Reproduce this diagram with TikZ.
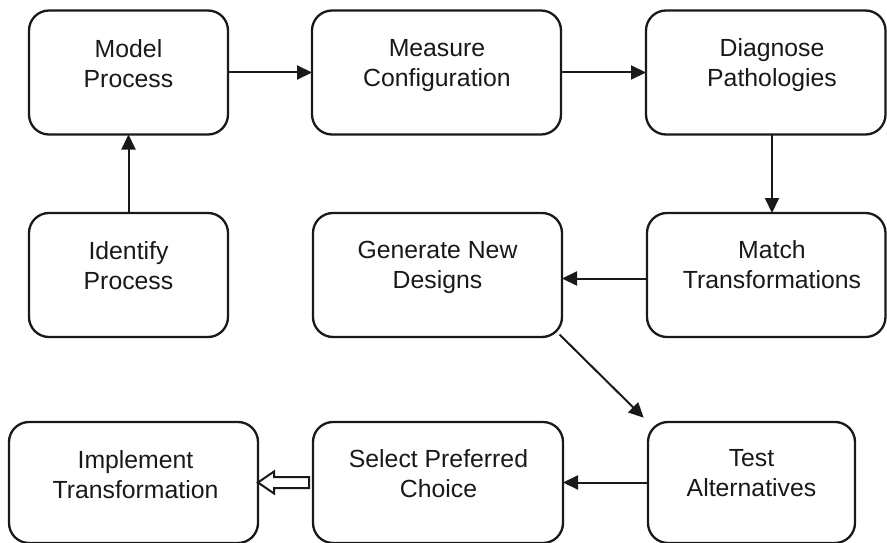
\documentclass[tikz,border=0pt]{standalone}
\usepackage{fontspec}
\setmainfont{Liberation Sans}
\usetikzlibrary{arrows.meta,calc}

\tikzset{
  x=1pt, y=-1pt,
  stepbox/.style={draw=black!90, line width=2.3pt, rounded corners=20pt,
    inner sep=0pt, outer sep=0pt, minimum height=124pt},
  lbl/.style={anchor=north, inner sep=0pt, align=center,
    font=\fontsize{24.8}{30}\selectfont, text=black!90},
  arr/.style={draw=black!90, line width=2pt,
    -{Triangle[length=15pt,width=14pt]}},
  hollow/.style={draw=black!90, line width=2pt, fill=white, line join=miter}
}

\begin{document}
\begin{tikzpicture}
\useasboundingbox (0,0) rectangle (887,543);

% boxes
\node[stepbox, minimum width=199pt] (model)    at (128.5,72.5) {};
\node[stepbox, minimum width=249pt] (measure)  at (436.5,72.5) {};
\node[stepbox, minimum width=239.5pt] (diagnose) at (765.75,72.5) {};

\node[stepbox, minimum width=199pt] (identify) at (128.5,275) {};
\node[stepbox, minimum width=249pt] (generate) at (437.5,275) {};
\node[stepbox, minimum width=238.5pt] (match)  at (766.25,275) {};

\node[stepbox, minimum width=249pt, minimum height=121pt] (implement) at (133.5,482.5) {};
\node[stepbox, minimum width=250pt, minimum height=121pt] (select)    at (438,482.5) {};
\node[stepbox, minimum width=207pt, minimum height=121pt] (test)      at (751.5,482.5) {};

% labels
\node[lbl] (t-model)     at (128.5,39)   {Model\\Process};
\node[lbl] (t-measure)   at (437,39)     {Measure\\Configuration};
\node[lbl] (t-diagnose)  at (772,38.5)   {Diagnose\\Pathologies};
\node[lbl] (t-identify)  at (128.5,241)  {Identify\\Process};
\node[lbl] (t-generate)  at (437.5,240.5){Generate New\\Designs};
\node[lbl] (t-match)     at (772,240)    {Match\\Transformations};
\node[lbl] (t-implement) at (135.5,450)  {Implement\\Transformation};
\node[lbl] (t-select)    at (438.5,449.5){Select Preferred\\Choice};
\node[lbl] (t-test)      at (751.5,449)  {Test\\Alternatives};

% connectors
\draw[arr] (model.east) -- (measure.west);
\draw[arr] (measure.east) -- (diagnose.west);
\draw[arr] (t-diagnose |- diagnose.south) -- (t-diagnose |- match.north);
\draw[arr] (identify.north) -- (model.south);
\draw[arr] ([yshift=-3.5pt]match.west) -- ([yshift=-3.5pt]match.west -| generate.east);
\draw[arr, shorten <=-3.5pt, shorten >=6pt] (generate.south east) -- (test.north west);
\draw[arr] (test.west) -- (select.west -| select.east);

% hollow block arrow
\coordinate (ha) at ($(select.west)+(-4,0)$);
\draw[hollow] (implement.east) -- ++(16,-11) -- ++(0,5.5)
  -- ($(ha)+(0,-5.5)$) -- ($(ha)+(0,5.5)$) -- ++(-35,0) -- ++(0,5.5) -- cycle;
\end{tikzpicture}
\end{document}
